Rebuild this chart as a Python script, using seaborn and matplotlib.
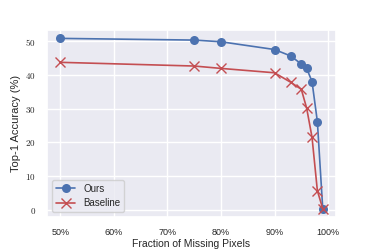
import matplotlib
matplotlib.use("Agg")
import matplotlib.pyplot as plt
import seaborn as sns
import pandas as pd
from matplotlib.ticker import FuncFormatter

fractions = [50, 75, 80, 90, 93, 95, 96, 97, 98, 99]
ours = [50.8, 50.3, 49.8, 47.5, 45.6, 43.2, 41.9, 38.0, 26.1, 0.3]
baseline = [43.7, 42.6, 41.9, 40.6, 37.8, 35.7, 30.1, 21.5, 5.6, 0.3]
series_names = ["Ours", "Baseline"]
x_ticks = [50, 60, 70, 80, 90, 100]
y_ticks = [0, 10, 20, 30, 40, 50]

sns.set_theme(style="darkgrid")
plt.rcParams["font.family"] = ["Liberation Sans", "DejaVu Sans"]
plt.rcParams["mathtext.fontset"] = "cm"

fig, ax = plt.subplots(figsize=(3.74, 2.49), dpi=100)
fig.subplots_adjust(left=0.126, right=0.898, top=0.88, bottom=0.128)

df = pd.DataFrame({"x": fractions * 2,
                   "acc": ours + baseline,
                   "method": [series_names[0]] * len(fractions) + [series_names[1]] * len(fractions)})

blue = "#4c72b0"
red = "#c44e52"
sns.lineplot(data=df[df.method == "Ours"], x="x", y="acc", ax=ax, color=blue,
             marker="o", markersize=6.5, markeredgewidth=0, markeredgecolor=blue,
             linewidth=1.2, label="Ours")
sns.lineplot(data=df[df.method == "Baseline"], x="x", y="acc", ax=ax, color=red,
             marker="x", markersize=6.5, markeredgewidth=1.0, markeredgecolor=red,
             linewidth=1.2, label="Baseline")

ax.set_xticks(x_ticks)
ax.set_yticks(y_ticks)
ax.xaxis.set_major_formatter(FuncFormatter(lambda v, p: f"{v:.0f}%"))
ax.yaxis.set_major_formatter(FuncFormatter(lambda v, p: f"${v:.0f}$"))
ax.tick_params(labelsize=6.5, pad=2)
ax.set_xlabel("Fraction of Missing Pixels", fontsize=7.5, labelpad=1)
ax.set_ylabel("Top-1 Accuracy (%)", fontsize=8, labelpad=3)
ax.legend(loc="lower left", fontsize=7, frameon=True)

fig.savefig("out.png", dpi=100)
